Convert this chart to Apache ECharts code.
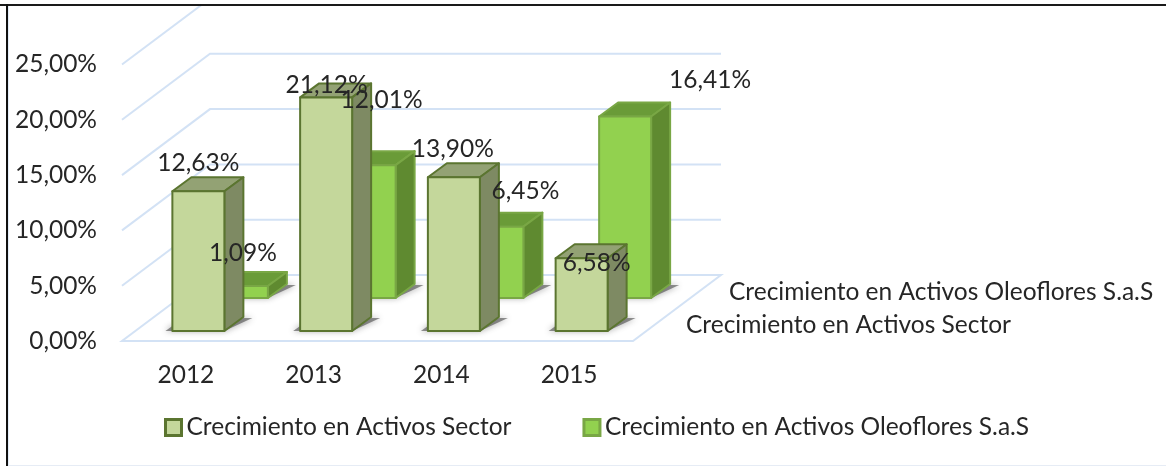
<!DOCTYPE html>
<html><head><meta charset="utf-8">
<style>html,body{margin:0;padding:0;background:#fff}#c{width:1166px;height:466px}</style>
<script src="https://cdn.jsdelivr.net/npm/echarts@6/dist/echarts.min.js"></script>
</head><body><div id="c"></div>
<script>
const categories = ['2012','2013','2014','2015'];
const sectorName = 'Crecimiento en Activos Sector';
const oleoName = 'Crecimiento en Activos Oleoflores S.a.S';
const sectorValues = [12.63,21.12,13.90,6.58];
const oleoValues = [1.09,12.01,6.45,16.41];
const yTicks = [0,5,10,15,20,25];

// oblique projection settings (pixels)
const WALL = {dx:88, dy:-66};
const BAR = {w:52, dx:19, dy:-14};
const SECTOR_ROW = {shiftX:12.5, shiftY:-10};
const OLEO_ROW = {shiftX:56, shiftY:-43};
// label offsets from the bar's top-front-centre
const sectorLabelOffset = [[0,-28],[0.5,-12],[-1,-28],[15,5]];
const oleoLabelOffset = [[1,-33],[12,-65],[28,-36],[85,-36]];

const fmt = v => v.toFixed(2).replace('.',',') + '%';
const TEXT = '#262626';
const FS = 24.5;
const FONT = 'Lato';

const SECTOR = {face:'#c4d79b', side:'#7e8a63', top:'#93a274', line:'#5b7530'};
const OLEO = {face:'#92d14f', side:'#5f8a30', top:'#6a9b38', line:'#79a745'};

function wallItem(params, api){
  const v = api.value(0);
  const cs = params.coordSys;
  const p = api.coord([categories[0], v]);
  const x0 = cs.x, x1 = cs.x + cs.width, y = p[1];
  const pts = v === 0
    ? [[x0+WALL.dx,y+WALL.dy],[x1+WALL.dx,y+WALL.dy],[x1,y],[x0,y],[x0+WALL.dx,y+WALL.dy]]
    : [[x0,y],[x0+WALL.dx,y+WALL.dy],[x1+WALL.dx,y+WALL.dy]];
  return {type:'polyline', shape:{points:pts}, style:{fill:null, stroke:'#d3e2f5', lineWidth:2}, silent:true};
}

function barItem(row, pal){
  return function(params, api){
    const top = api.coord([api.value(0), api.value(1)]);
    const base = api.coord([api.value(0), 0]);
    const xL = top[0] - BAR.w/2 + row.shiftX, xR = xL + BAR.w;
    const yB = base[1] + row.shiftY, yT = top[1] + row.shiftY;
    const d = BAR;
    const st = (fill) => ({fill, stroke:pal.line, lineWidth:2, lineJoin:'round'});
    return {type:'group', children:[
      {type:'polygon', shape:{points:[[xL-7,yB],[xR,yB],[xR+d.dx+9,yB+d.dy+1],[xR+d.dx,yB+d.dy+1],[xR,yB-5],[xL,yB-5]]},
        style:{fill:'rgba(60,60,60,0.55)', shadowBlur:6, shadowColor:'rgba(60,60,60,0.9)'}, silent:true},
      {type:'polygon', shape:{points:[[xL,yT],[xL+d.dx,yT+d.dy],[xR+d.dx,yT+d.dy],[xR,yT]]}, style:st(pal.top)},
      {type:'polygon', shape:{points:[[xR,yT],[xR+d.dx,yT+d.dy],[xR+d.dx,yB+d.dy],[xR,yB]]}, style:st(pal.side)},
      {type:'rect', shape:{x:xL,y:yT,width:BAR.w,height:yB-yT}, style:st(pal.face)}
    ]};
  };
}

function labelItem(row, offsets){
  return function(params, api){
    const top = api.coord([api.value(0), api.value(1)]);
    const off = offsets[params.dataIndex];
    return {type:'text', style:{x:top[0]+row.shiftX+off[0], y:top[1]+row.shiftY+off[1],
      text:fmt(api.value(1)), fill:TEXT, font:FS+'px '+FONT, align:'center', verticalAlign:'middle'}, silent:true};
  };
}
function rowOf(arr){ return arr.map((v,i)=>[categories[i],v]); }

const chart = echarts.init(document.getElementById('c'), null, {renderer:'canvas'});
chart.setOption({
  animation:false,
  backgroundColor:'#fff',
  textStyle:{fontFamily:FONT},
  grid:{left:122, top:64.5, width:511, height:276.5, containLabel:false},
  xAxis:{type:'category', data:categories, axisLine:{show:false}, axisTick:{show:false},
    axisLabel:{color:TEXT, fontSize:FS, fontFamily:FONT, margin:22}},
  yAxis:{type:'value', min:0, max:25, interval:5, splitLine:{show:false}, axisLine:{show:false}, axisTick:{show:false},
    axisLabel:{color:TEXT, fontSize:FS, fontFamily:FONT, margin:25, formatter:fmt}},
  legend:{left:164, top:415, padding:0, itemWidth:16, itemHeight:16, itemGap:71,
    textStyle:{color:TEXT, fontSize:FS, fontFamily:FONT, padding:0},
    data:[
      {name:sectorName, icon:'rect', itemStyle:{color:SECTOR.face, borderColor:SECTOR.line, borderWidth:3}},
      {name:oleoName, icon:'rect', itemStyle:{color:OLEO.face, borderColor:OLEO.line, borderWidth:3}}
    ]},
  graphic:[
    {type:'text', z:20, left:729, top:280, style:{text:oleoName, fill:TEXT, font:FS+'px '+FONT}},
    {type:'text', z:20, left:686, top:313, style:{text:sectorName, fill:TEXT, font:FS+'px '+FONT}},
    {type:'rect', z:30, left:0, top:0, shape:{width:1166,height:4}, style:{fill:'#fff'}, silent:true},
    {type:'rect', z:31, left:0, top:4, shape:{width:1166,height:2}, style:{fill:'#1a1a1a'}, silent:true},
    {type:'rect', z:31, left:6, top:4, shape:{width:2,height:462}, style:{fill:'#111'}, silent:true},
    {type:'rect', z:31, left:8, top:6, shape:{width:1,height:460}, style:{fill:'#e3edf8'}, silent:true},
    {type:'rect', z:31, left:8, top:465, shape:{width:1158,height:1}, style:{fill:'#e6ecf5'}, silent:true}
  ],
  series:[
    {type:'custom', name:'walls', z:1, silent:true, clip:false, data:yTicks.map(v=>[v]), renderItem:wallItem, encode:{y:0}},
    {type:'custom', name:oleoName, z:2, clip:false, data:rowOf(oleoValues), renderItem:barItem(OLEO_ROW,OLEO), encode:{x:0,y:1}},
    {type:'custom', name:sectorName, z:3, clip:false, data:rowOf(sectorValues), renderItem:barItem(SECTOR_ROW,SECTOR), encode:{x:0,y:1}},
    {type:'custom', name:'sectorLabels', z:10, silent:true, clip:false, data:rowOf(sectorValues), renderItem:labelItem(SECTOR_ROW,sectorLabelOffset), encode:{x:0,y:1}},
    {type:'custom', name:'oleoLabels', z:11, silent:true, clip:false, data:rowOf(oleoValues), renderItem:labelItem(OLEO_ROW,oleoLabelOffset), encode:{x:0,y:1}}
  ]
});
</script></body></html>
